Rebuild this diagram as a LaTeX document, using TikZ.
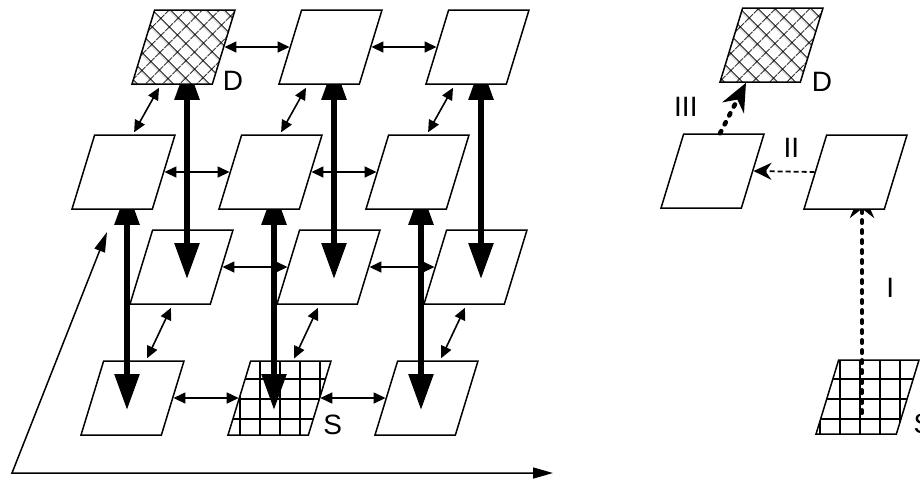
\documentclass[tikz,border=0pt]{standalone}
\usepackage{fontspec}
\setmainfont{Liberation Sans}
\usetikzlibrary{calc,shapes.geometric,patterns.meta,arrows.meta,backgrounds}

\tikzset{
	cell/.style={trapezium, trapezium left angle=68.6, trapezium right angle=111.4,
		trapezium stretches=true, minimum width=51.5pt, minimum height=37pt,
		inner sep=2pt, draw, line width=0.75pt},
	upcell/.style={cell, fill=white},
	dstcell/.style={upcell, postaction={pattern={Hatch[angle=45, distance=6.5pt, line width=0.5pt]}}},
	srccell/.style={cell, pattern={Hatch[angle=0, distance=10pt, line width=0.6pt]}},
	link/.style={{Triangle[length=6pt, width=5.5pt]}-{Triangle[length=6pt, width=5.5pt]}, line width=0.8pt},
	flow/.style={{Triangle[length=18pt, width=12pt]}-{Triangle[length=18pt, width=12pt]}, line width=2.8pt},
	hop/.style={-{Stealth[length=14pt, width=12pt]}, line width=2.3pt, line cap=round, dash pattern=on 1.2pt off 3.8pt},
	sidehop/.style={-{Stealth[length=9pt, width=8.5pt]}, line width=0.9pt, dash pattern=on 2.5pt off 1.5pt},
	axis/.style={{Triangle[length=10pt, width=5.5pt]}-{Triangle[length=10pt, width=5.5pt]}, line width=0.75pt},
	lbl/.style={inner sep=0pt, font=\fontsize{14}{16}\selectfont},
}

\begin{document}
\begin{tikzpicture}[x=0.5pt, y=-0.5pt]
	\useasboundingbox (0,0) rectangle (920,479);
	% lower layer (open cells)
	\foreach \n/\x/\y/\k in {c1/181.5/267/cell, c2/328.5/267/cell, c3/475.5/267/cell,
		d1/132.5/398/cell, d2/279.5/398/srccell, d3/426.5/398/cell}
		\node[\k] (\n) at (\x,\y) {};
	% upper layer
	\foreach \n/\x/\y/\k in {a1/183.5/47/dstcell, a2/330.5/47/upcell, a3/477.5/47/upcell,
		b1/123.5/172/upcell, b2/270.5/172/upcell, b3/417.5/172/upcell}
		\node[\k] (\n) at (\x,\y) {};
	\node[lbl] (dlbl) at ([shift={(20,-4)}]a1.bottom right corner) {D};
	\node[lbl] (slbl) at ([shift={(24,-11)}]d2.bottom right corner) {S};
	% vertical links
	\begin{scope}[on background layer]
		\foreach \u/\v in {a1/c1, a2/c2, a3/c3, b1/d1, b2/d2, b3/d3}
			\draw[flow] ($(\u.bottom left corner)+(56,-21)$) -- ($(\u.bottom left corner |- \v.center)+(56,12)$);
	\end{scope}
	% links in each layer
	\foreach \r in {a,b,c,d}
		\foreach \i/\j in {1/2, 2/3}
			\draw[link] (\r\i.right side) -- (\r\j.left side);
	\foreach \c in {1,2,3} {
		\draw[link] ([shift={(28,3)}]a\c.bottom left corner) -- ([shift={(40,-2)}]b\c.top left corner);
		\draw[link] ([shift={(42,3)}]c\c.bottom left corner) -- ([shift={(44,-2)}]d\c.top left corner);
	}
	% axes
	\coordinate (o) at (12,473);
	\coordinate (xend) at (553,473);
	\coordinate (yend) at (107,232);
	\draw[axis] (yend) -- (o) -- (xend);

	% route from S to D
	\node[srccell] (s2) at (867.5,397) {};
	\node[upcell] (rmid) at (855.5,172) {};
	\node[upcell] (lmid) at (712.5,171) {};
	\node[dstcell] (d2top) at (771.5,45) {};
	\node[lbl] (dlbl2) at ([shift={(21,-1)}]d2top.bottom right corner) {D};
	\node[lbl] (slbl2) at ([shift={(26,-11)}]s2.bottom right corner) {S};
	\begin{scope}[on background layer]
		\draw[hop] ([shift={(47,-22)}]s2.bottom left corner) -- node[lbl, pos=0.56, right=11pt] (h1) {I} ([shift={(59,-20)}]rmid.bottom left corner);
	\end{scope}
	\draw[sidehop] (rmid.left side) -- node[lbl, pos=0.38, above=6.5pt] (h2) {II} (lmid.right side);
	\draw[hop] ([shift={(37,0)}]lmid.top left corner) -- node[lbl, pos=0.53, left=17pt] (h3) {III} ([shift={(27,0)}]d2top.bottom left corner);
\end{tikzpicture}
\end{document}
